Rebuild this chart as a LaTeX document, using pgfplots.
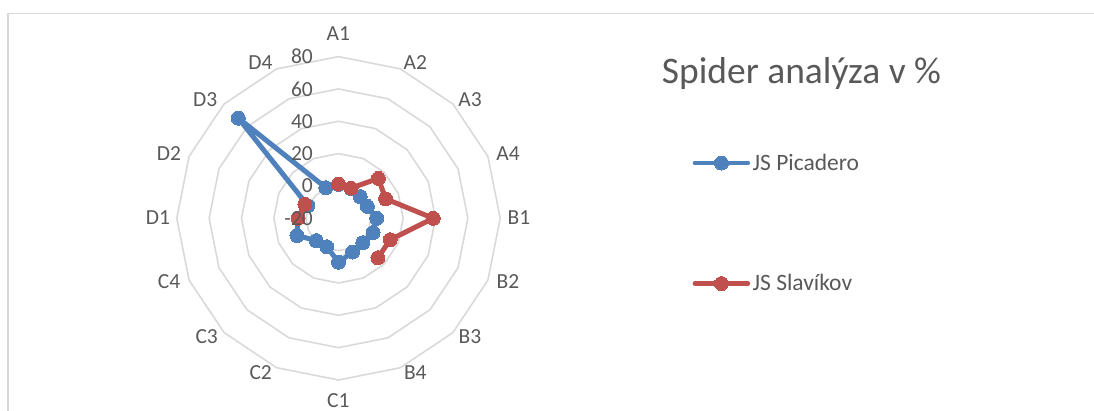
\documentclass[border=0pt]{standalone}
\usepackage{pgfplots}
\pgfplotsset{compat=1.18}
\usepackage{pgfplotstable}
\usepackage{fontspec}
\setmainfont{Carlito}
\definecolor{blueS}{HTML}{4F81BD}
\definecolor{redS}{HTML}{C0504D}
\definecolor{gridc}{HTML}{D9D9D9}
\definecolor{txt}{HTML}{595959}

% angle (deg, clockwise from top) and value in %
\pgfplotstableread{
a v
0 1
22.5 0
45 -1
67.5 -0.7
90 3.6
112.5 3.1
135 1.3
157.5 2.6
180 7.2
202.5 -1.0
225 -0.5
247.5 7.8
270 5
292.5 0.5
315 67.6
337.5 0.5
}\picadero

\pgfplotstableread{
a v
0 1.2
22.5 0.2
45 14.9
67.5 11.5
90 38.6
112.5 14.6
135 14.5
}\slavA

\pgfplotstableread{
a v
270 5
292.5 2.5
}\slavB

\pgfplotstableread{
a k
0 1
22.5 1
45 1
67.5 1
90 1
112.5 1
135 1
157.5 1
180 1
202.5 1
225 1
247.5 1
270 1
292.5 1
315 1
337.5 1
360 1
}\angles

\newcommand{\axfont}{\fontsize{21.5}{25}\selectfont}

\begin{document}
\begin{tikzpicture}[x=1pt,y=1pt]
\useasboundingbox (0,0) rectangle (1094,-411);
\draw[gridc, line width=1.5pt] (8,-411) -- (8,-13.5) -- (1094,-13.5);
\begin{axis}[
  at={(338.5pt,-218.3pt)}, anchor=center,
  x=1.617pt, y=1.617pt,
  xmin=-125, xmax=125, ymin=-125, ymax=125,
  hide axis, clip=false,
  legend cell align=left,
  legend style={draw=none, fill=none, inner sep=0pt,
    nodes={inner sep=2.5pt, text=txt},
    font=\fontsize{23.5}{28}\selectfont,
    row sep=97.7pt,
    at={(axis description cs:1.3756,0.4876)}, anchor=west},
  legend image code/.code={\draw[mark repeat=2,mark phase=2,#1,line width=4.5pt] plot coordinates {(0pt,0pt) (26.5pt,0pt) (53pt,0pt)};},
]
\pgfplotsinvokeforeach{20,40,60,80,100}{
  \addplot[gridc, line width=1.6pt, forget plot, mark=none]
    table[x expr={#1*sin(\thisrow{a})}, y expr={#1*cos(\thisrow{a})}] {\angles};
}
\addplot[blueS, line width=5pt, line join=round, line cap=round, mark=*, mark size=7pt,
  mark options={solid, fill=blueS, draw=blueS, line width=0pt}]
  table[x expr={(\thisrow{v}+20)*sin(\thisrow{a})}, y expr={(\thisrow{v}+20)*cos(\thisrow{a})}] {\picadero} -- cycle;
\addlegendentry{JS Picadero}
\addplot[redS, line width=5pt, line join=round, line cap=round, mark=*, mark size=7pt,
  mark options={solid, fill=redS, draw=redS, line width=0pt}]
  table[x expr={(\thisrow{v}+20)*sin(\thisrow{a})}, y expr={(\thisrow{v}+20)*cos(\thisrow{a})}] {\slavA};
\addlegendentry{JS Slavíkov}
\addplot[redS, line width=5pt, line join=round, line cap=round, mark=*, mark size=7pt, forget plot,
  mark options={solid, fill=redS, draw=redS, line width=0pt}]
  table[x expr={(\thisrow{v}+20)*sin(\thisrow{a})}, y expr={(\thisrow{v}+20)*cos(\thisrow{a})}] {\slavB};
\end{axis}
% radial tick labels
\begin{scope}[every node/.style={anchor=east, inner sep=0pt, text=txt, font=\axfont}]
\node at (313,-56.6) {80};
\node at (313,-88.9) {60};
\node at (313,-121.3) {40};
\node at (313,-153.6) {20};
\node at (313,-186) {0};
\node at (313,-218.3) {-20};
\end{scope}
% category labels
\begin{scope}[every node/.style={anchor=center, inner sep=0pt, text=txt, font=\axfont}]
\node at (338.3,-33.3) {A1};
\node at (415.3,-62.7) {A2};
\node at (470,-99.3) {A3};
\node at (508,-153.3) {A4};
\node at (519,-218) {B1};
\node at (508,-281.7) {B2};
\node at (470,-336.7) {B3};
\node at (415.3,-372.7) {B4};
\node at (338.3,-400.7) {C1};
\node at (260.7,-372.7) {C2};
\node at (206.7,-336.7) {C3};
\node at (169,-281.7) {C4};
\node at (158,-218) {D1};
\node at (169,-153.3) {D2};
\node at (205.3,-99.3) {D3};
\node at (260.5,-62.7) {D4};
\end{scope}
\node[anchor=base, inner sep=0pt, text=txt, font=\fontsize{37.5}{44}\selectfont] at (801.5,-83.3) {Spider analýza v \%};
\end{tikzpicture}
\end{document}
